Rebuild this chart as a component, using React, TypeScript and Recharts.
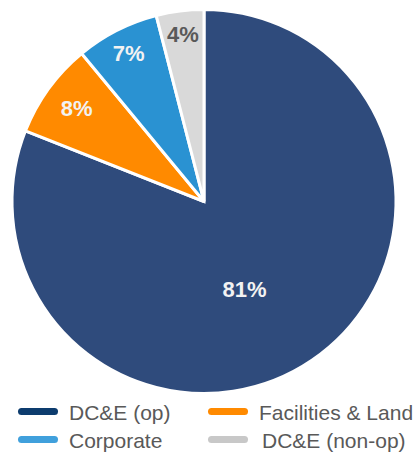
import { PieChart, Pie, Cell, Legend } from 'recharts'

const segments = ['DC&E (op)', 'Facilities & Land', 'Corporate', 'DC&E (non-op)']
const shares = [81, 8, 7, 4]

const SLICE_COLORS = ['#2F4B7C', '#FF8A00', '#2A92D2', '#D9D9D9']
const LEGEND_COLORS = ['#0D3C6E', '#FF8A00', '#40A0DC', '#C8C8C8']
const LABEL_COLORS = ['#F2F2F2', '#F2F2F2', '#F2F2F2', '#595959']
// label radius (fraction of outer radius) and angle nudge, per slice
const LABEL_POS = [
  { r: 0.505, nudge: -9.5 },
  { r: 0.82, nudge: 0 },
  { r: 0.865, nudge: 0 },
  { r: 0.875, nudge: 0 },
]

const data = segments.map((name, i) => ({ name, value: shares[i] }))

const RAD = Math.PI / 180

function renderLabel(props: any) {
  const { cx, cy, midAngle, outerRadius, index, value } = props
  const pos = LABEL_POS[index]
  const a = (midAngle + pos.nudge) * RAD
  const r = outerRadius * pos.r
  const x = cx + r * Math.cos(-a)
  const y = cy + r * Math.sin(-a)
  return (
    <text
      x={x}
      y={y}
      fill={LABEL_COLORS[index]}
      textAnchor="middle"
      dominantBaseline="central"
      fontFamily="'Liberation Sans', Arial, sans-serif"
      fontWeight="bold"
      fontSize={22}
    >
      {value}%
    </text>
  )
}

// legend keeps the series order (recharts would sort its payload)
function LegendBox() {
  return (
    <div
      style={{
        display: 'grid',
        gridTemplateColumns: '190px 207px',
        rowGap: 2,
        paddingLeft: 18,
        fontFamily: "'Liberation Sans', Arial, sans-serif",
        fontSize: 21,
        color: '#595959',
      }}
    >
      {data.map((d, i) => (
        <div key={d.name} style={{ display: 'flex', alignItems: 'center', height: 26 }}>
          <span
            style={{
              display: 'inline-block',
              width: 40,
              height: 7,
              borderRadius: 4,
              background: LEGEND_COLORS[i],
              marginRight: i === 3 ? 14 : 11,
              marginTop: -4,
            }}
          />
          <span>{d.name}</span>
        </div>
      ))}
    </div>
  )
}

export default function App() {
  return (
    <div style={{ position: 'absolute', left: 0, top: 0 }}>
      <PieChart width={415} height={452} margin={{ top: 0, right: 0, bottom: 0, left: 0 }}>
        <Pie
          data={data}
          dataKey="value"
          nameKey="name"
          cx={204}
          cy={201.5}
          outerRadius={192}
          startAngle={90}
          endAngle={-270}
          stroke="#ffffff"
          strokeWidth={3}
          label={renderLabel}
          labelLine={false}
          isAnimationActive={false}
        >
          {data.map((d, i) => (
            <Cell key={d.name} fill={SLICE_COLORS[i]} />
          ))}
        </Pie>
        <Legend
          content={<LegendBox />}
          wrapperStyle={{ left: 0, top: 400, width: 415 }}
        />
      </PieChart>
    </div>
  )
}
